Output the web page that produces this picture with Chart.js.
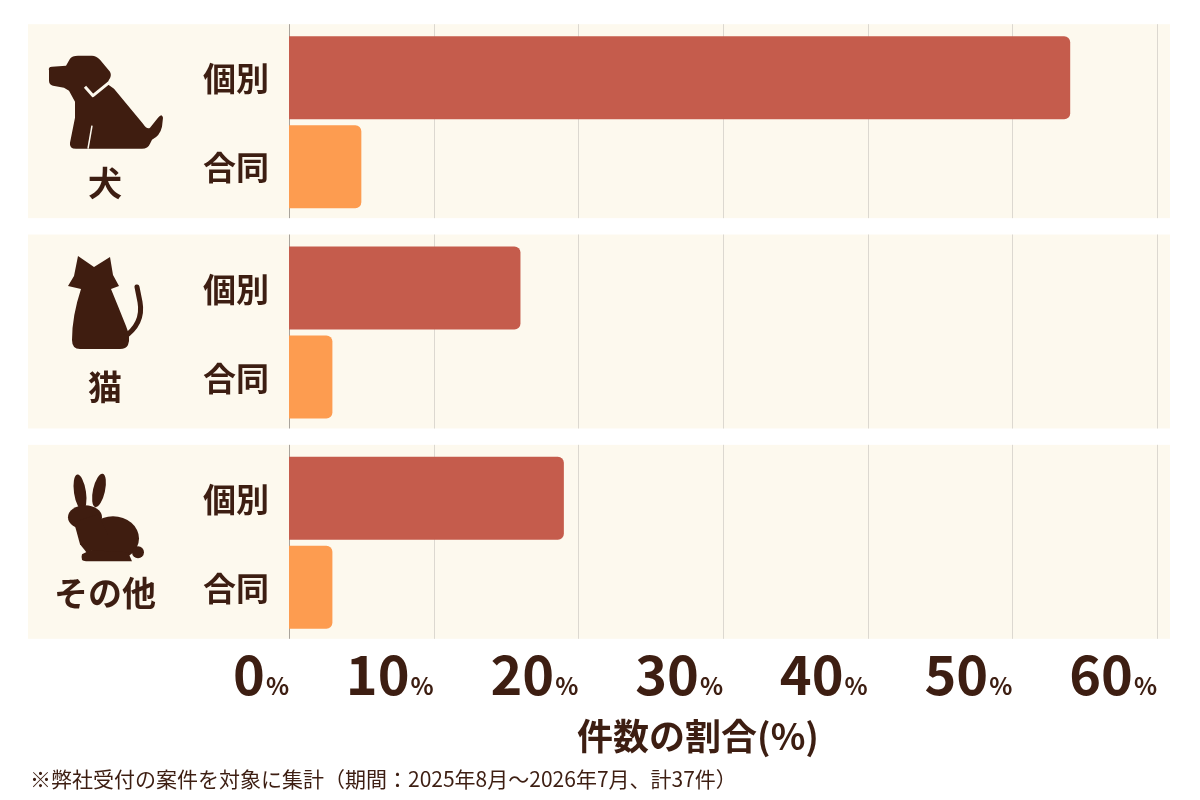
<!DOCTYPE html>
<html>
<head>
<meta charset="utf-8">
<script src="https://cdn.jsdelivr.net/npm/chart.js@4.4.1/dist/chart.umd.min.js"></script>
<style>
html,body{margin:0;padding:0;background:#ffffff;}
#wrap{width:1200px;height:800px;position:relative;}
</style>
</head>
<body>
<div id="wrap"><canvas id="c" width="1200" height="800"></canvas></div>
<script>
// ---- data ----
const groups = ['犬', '猫', 'その他'];
const seriesNames = ['個別', '合同'];
const kobetsu = [54, 16, 19];
const goudou = [5, 3, 3];
const xTicks = [0, 10, 20, 30, 40, 50, 60];
const xTitle = '件数の割合(%)';
const footnote = '※弊社受付の案件を対象に集計（期間：2025年8月～2026年7月、計37件）';

const TEXT = '#3d1e12';
const ICON = '#3f1d10';
const PANEL = '#fdf9ee';
const FONT = '"Noto Sans CJK JP", "Noto Sans", sans-serif';

function drawDog(ctx, x0, y0) {
  ctx.save();
  ctx.translate(x0, y0);
  ctx.fillStyle = ICON;
  ctx.beginPath();
  ctx.moveTo(1, 15);
  ctx.quadraticCurveTo(0, 11, 4, 11);
  ctx.lineTo(18, 10);
  ctx.lineTo(22, 3);
  ctx.quadraticCurveTo(24, 0, 30, 0);
  ctx.lineTo(44, 0);
  ctx.quadraticCurveTo(48, 0, 52, 4);
  ctx.lineTo(62, 16);
  ctx.quadraticCurveTo(64, 20, 61, 24);
  ctx.lineTo(59, 28);
  ctx.lineTo(66, 33);
  ctx.lineTo(95, 68);
  ctx.quadraticCurveTo(99, 74, 102, 72);
  ctx.lineTo(110, 62);
  ctx.quadraticCurveTo(114, 57, 115, 62);
  ctx.lineTo(114, 71);
  ctx.quadraticCurveTo(112, 80, 104, 84);
  ctx.lineTo(102, 88);
  ctx.quadraticCurveTo(100, 93, 94, 93);
  ctx.lineTo(28, 93);
  ctx.quadraticCurveTo(21, 93, 22, 87);
  ctx.lineTo(27, 62);
  ctx.lineTo(27, 46);
  ctx.lineTo(21, 35);
  ctx.lineTo(16, 32);
  ctx.lineTo(5, 30);
  ctx.quadraticCurveTo(1, 29, 1, 25);
  ctx.closePath();
  ctx.fill();
  // collar
  ctx.strokeStyle = PANEL;
  ctx.lineWidth = 3;
  ctx.lineJoin = 'round';
  ctx.beginPath();
  ctx.moveTo(37, 31);
  ctx.lineTo(45, 40);
  ctx.lineTo(61, 27);
  ctx.stroke();
  // leg separation
  ctx.lineWidth = 1.5;
  ctx.beginPath();
  ctx.moveTo(40, 93);
  ctx.lineTo(44, 70);
  ctx.stroke();
  ctx.restore();
}

function drawCat(ctx, x0, y0) {
  ctx.save();
  ctx.translate(x0, y0);
  ctx.fillStyle = ICON;
  ctx.beginPath();
  ctx.moveTo(10, 0);
  ctx.lineTo(26, 11);
  ctx.lineTo(42, 1);
  ctx.lineTo(45, 19);
  ctx.lineTo(51, 30);
  ctx.lineTo(43, 33);
  ctx.quadraticCurveTo(50, 50, 58, 70);
  ctx.quadraticCurveTo(63, 82, 60, 89);
  ctx.quadraticCurveTo(58, 93, 52, 93);
  ctx.lineTo(12, 93);
  ctx.quadraticCurveTo(4, 93, 4, 84);
  ctx.quadraticCurveTo(4, 60, 13, 33);
  ctx.lineTo(0, 30);
  ctx.lineTo(6, 20);
  ctx.closePath();
  ctx.fill();
  ctx.strokeStyle = ICON;
  ctx.lineWidth = 5;
  ctx.lineCap = 'round';
  ctx.beginPath();
  ctx.moveTo(55, 82);
  ctx.quadraticCurveTo(76, 68, 72, 46);
  ctx.quadraticCurveTo(70, 36, 69, 31);
  ctx.stroke();
  ctx.restore();
}

function drawRabbit(ctx, x0, y0) {
  ctx.save();
  ctx.translate(x0, y0);
  ctx.fillStyle = ICON;
  ctx.beginPath();
  ctx.ellipse(12, 18, 6, 18, -0.15, 0, Math.PI * 2);
  ctx.fill();
  ctx.beginPath();
  ctx.ellipse(31, 16, 6, 17, 0.22, 0, Math.PI * 2);
  ctx.fill();
  ctx.beginPath();
  ctx.ellipse(17, 43, 17, 12, 0, 0, Math.PI * 2);
  ctx.fill();
  ctx.beginPath();
  ctx.ellipse(45, 64, 26, 22, 0, 0, Math.PI * 2);
  ctx.fill();
  ctx.beginPath();
  ctx.moveTo(6, 48);
  ctx.lineTo(30, 40);
  ctx.lineTo(40, 60);
  ctx.lineTo(20, 80);
  ctx.lineTo(12, 70);
  ctx.closePath();
  ctx.fill();
  ctx.beginPath();
  ctx.arc(70, 78, 6, 0, Math.PI * 2);
  ctx.fill();
  ctx.beginPath();
  ctx.moveTo(14, 80);
  ctx.quadraticCurveTo(12, 87, 18, 87);
  ctx.lineTo(64, 87);
  ctx.lineTo(60, 78);
  ctx.lineTo(22, 76);
  ctx.closePath();
  ctx.fill();
  ctx.restore();
}

const icons = [drawDog, drawCat, drawRabbit];

const decor = {
  id: 'decor',
  beforeDatasetsDraw(chart) {
    const ctx = chart.ctx;
    const xs = chart.scales.x;
    const m0 = chart.getDatasetMeta(0).data;
    const m1 = chart.getDatasetMeta(1).data;
    ctx.save();
    for (let i = 0; i < groups.length; i++) {
      const top = m0[i].y - m0[i].height / 2 - 12;
      const bottom = m1[i].y + m1[i].height / 2 + 10;
      ctx.fillStyle = PANEL;
      ctx.fillRect(28, top, 1142, bottom - top);
      xTicks.forEach((v) => {
        const px = Math.round(xs.getPixelForValue(v)) + 0.5;
        ctx.strokeStyle = v === 0 ? '#a9a39b' : '#dcd8d0';
        ctx.lineWidth = 1;
        ctx.beginPath();
        ctx.moveTo(px, top);
        ctx.lineTo(px, bottom);
        ctx.stroke();
      });
    }
    ctx.restore();
  },
  afterDatasetsDraw(chart) {
    const ctx = chart.ctx;
    const xs = chart.scales.x;
    const area = chart.chartArea;
    const m0 = chart.getDatasetMeta(0).data;
    const m1 = chart.getDatasetMeta(1).data;
    ctx.save();
    ctx.fillStyle = TEXT;
    // series labels per bar
    ctx.font = 'bold 33px ' + FONT;
    ctx.textAlign = 'right';
    ctx.textBaseline = 'middle';
    for (let i = 0; i < groups.length; i++) {
      ctx.fillText(seriesNames[0], area.left - 20, m0[i].y + 1);
      ctx.fillText(seriesNames[1], area.left - 20, m1[i].y + 1);
    }
    // group labels + icons
    const iconDy = [-22, -32, -24];
    const labelDy = [16, 10, 6];
    for (let i = 0; i < groups.length; i++) {
      ctx.font = 'bold 34px ' + FONT;
      ctx.textAlign = 'center';
      ctx.textBaseline = 'middle';
      ctx.fillStyle = TEXT;
      ctx.fillText(groups[i], 105, m1[i].y + labelDy[i]);
      icons[i](ctx, i === 0 ? 48 : 68, m0[i].y + iconDy[i]);
    }
    // x tick labels
    ctx.fillStyle = TEXT;
    ctx.textBaseline = 'alphabetic';
    ctx.textAlign = 'right';
    xTicks.forEach((v) => {
      const px = xs.getPixelForValue(v);
      ctx.font = 'bold 24px ' + FONT;
      const pw = ctx.measureText('%').width;
      ctx.fillText('%', px, 695);
      ctx.font = 'bold 54px ' + FONT;
      ctx.fillText(String(v), px - pw - 1, 695);
    });
    // axis title
    ctx.font = 'bold 36px ' + FONT;
    ctx.textAlign = 'center';
    ctx.textBaseline = 'middle';
    ctx.fillText(xTitle, 698, 736);
    // footnote
    ctx.font = '21px ' + FONT;
    ctx.textAlign = 'left';
    ctx.textBaseline = 'alphabetic';
    ctx.fillText(footnote, 30, 787);
    ctx.restore();
  }
};

new Chart(document.getElementById('c'), {
  type: 'bar',
  data: {
    labels: groups,
    datasets: [
      {
        label: seriesNames[0],
        data: kobetsu,
        backgroundColor: '#c55c4c',
        borderRadius: 6,
        borderSkipped: 'start',
        categoryPercentage: 0.846,
        barPercentage: 0.933
      },
      {
        label: seriesNames[1],
        data: goudou,
        backgroundColor: '#fd9c50',
        borderRadius: 6,
        borderSkipped: 'start',
        categoryPercentage: 0.846,
        barPercentage: 0.933
      }
    ]
  },
  options: {
    indexAxis: 'y',
    responsive: false,
    animation: false,
    devicePixelRatio: 1,
    layout: { padding: { left: 289, right: 43, top: 17, bottom: 152 } },
    plugins: { legend: { display: false }, tooltip: { enabled: false } },
    scales: {
      x: { display: false, min: 0, max: 60 },
      y: { display: false }
    }
  },
  plugins: [decor]
});
</script>
</body>
</html>
